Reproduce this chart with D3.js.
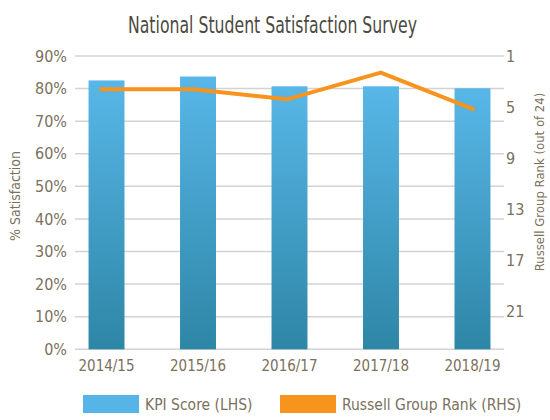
<!DOCTYPE html>
<html><head><meta charset="utf-8">
<script src="https://cdn.jsdelivr.net/npm/d3@7"></script>
<style>
html,body{margin:0;padding:0;background:#fff;}
text{font-family:"Liberation Sans Narrow","DejaVu Sans Condensed",sans-serif;}
</style></head>
<body><svg id="chart" width="550" height="420"></svg>
<script>
const categories = ["2014/15","2015/16","2016/17","2017/18","2018/19"];
const kpiScore = [82.5, 83.7, 80.7, 80.7, 80.1];
const russellRank = [3.6, 3.6, 4.4, 2.3, 5.2];
const leftTicks = [0,10,20,30,40,50,60,70,80,90];
const rightTicks = [1,5,9,13,17,21];
const title = "National Student Satisfaction Survey";
const leftTitle = "% Satisfaction";
const rightTitle = "Russell Group Rank (out of 24)";
const legendLabels = ["KPI Score (LHS)","Russell Group Rank (RHS)"];

const svg = d3.select("#chart");
const textCol = "#7b715d";
const plot = {left:75, right:504, top:56, bottom:349.3};

const x = d3.scaleBand().domain(categories).range([plot.left, plot.right])
  .paddingInner(0.607).paddingOuter(0.148);
const xLine = d3.scalePoint().domain(categories).range([99.5, 474.5]);
const y = d3.scaleLinear().domain([0,90]).range([plot.bottom, plot.top]);
const yR = d3.scaleLinear().domain([1,24]).range([plot.top, plot.bottom]);

const defs = svg.append("defs");
const grad = defs.append("linearGradient").attr("id","barGrad")
  .attr("x1",0).attr("y1",0).attr("x2",0).attr("y2",1);
grad.append("stop").attr("offset","0%").attr("stop-color","#58b7e8");
grad.append("stop").attr("offset","100%").attr("stop-color","#2e86a6");

// title
svg.append("text").attr("x",272.5).attr("y",33).attr("text-anchor","middle")
  .attr("font-size",23).attr("fill","#4b4940")
  .attr("textLength",289).attr("lengthAdjust","spacingAndGlyphs").text(title);

// gridlines
svg.append("g").selectAll("line").data(leftTicks).join("line")
  .attr("x1",plot.left).attr("x2",plot.right)
  .attr("y1",d=>y(d)).attr("y2",d=>y(d))
  .attr("stroke","#d3d3d3").attr("stroke-width",1.5);

// left axis
const la = svg.append("g").attr("transform",`translate(${plot.left-8},0)`)
  .call(d3.axisLeft(y).tickValues(leftTicks).tickSize(0).tickPadding(0).tickFormat(d=>d+"%"));
la.select(".domain").remove();
la.selectAll("text").attr("font-size",16).attr("fill",textCol).attr("font-family",null);

// right axis
const ra = svg.append("g").attr("transform",`translate(${plot.right+2},0)`)
  .call(d3.axisRight(yR).tickValues(rightTicks).tickSize(0).tickPadding(0).tickFormat(d3.format("d")));
ra.select(".domain").remove();
ra.selectAll("text").attr("font-size",16).attr("fill",textCol).attr("font-family",null);

// bars
svg.append("g").selectAll("rect").data(kpiScore).join("rect")
  .attr("x",(d,i)=>x(categories[i])).attr("width",x.bandwidth())
  .attr("y",d=>y(d)).attr("height",d=>y(0)-y(d))
  .attr("fill","url(#barGrad)");

// x axis
const xa = svg.append("g").attr("transform",`translate(0,${plot.bottom+7})`)
  .call(d3.axisBottom(x).tickSize(0).tickPadding(0));
xa.select(".domain").remove();
xa.selectAll("text").attr("font-size",15).attr("fill",textCol).attr("font-family",null)
  .attr("dy","0.95em");

// line
const line = d3.line().x((d,i)=>xLine(categories[i])).y(d=>yR(d));
svg.append("path").datum(russellRank).attr("d",line)
  .attr("fill","none").attr("stroke","#f7941d").attr("stroke-width",4)
  .attr("stroke-linejoin","round");

// axis titles
svg.append("text").attr("transform","translate(20,196) rotate(-90)")
  .attr("text-anchor","middle").attr("font-size",14).attr("fill",textCol).text(leftTitle);
svg.append("text").attr("transform","translate(544,182) rotate(-90)")
  .attr("text-anchor","middle").attr("font-size",13).attr("fill",textCol).text(rightTitle);

// legend
const lg = svg.append("g");
const legendColors = ["#56b4e6","#f7941d"];
const legendX = [83, 280];
legendLabels.forEach((l,i)=>{
  lg.append("rect").attr("x",legendX[i]).attr("y",395).attr("width",56).attr("height",18)
    .attr("fill",legendColors[i]);
  lg.append("text").attr("x",legendX[i]+62).attr("y",410).attr("font-size",15.5)
    .attr("fill",textCol).text(l);
});
</script></body></html>
